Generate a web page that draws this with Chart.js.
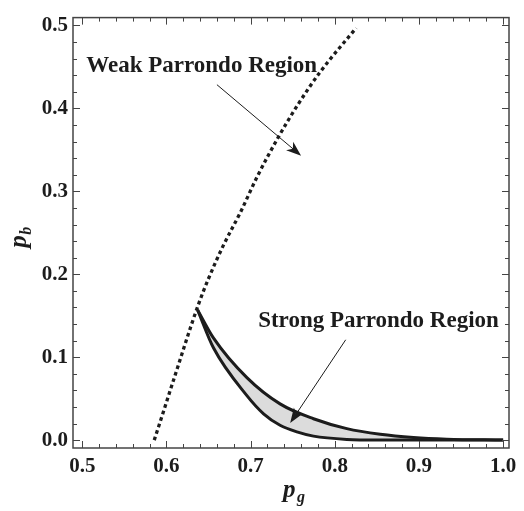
<!DOCTYPE html>
<html>
<head>
<meta charset="utf-8">
<script src="https://cdn.jsdelivr.net/npm/chart.js@4.4.0/dist/chart.umd.min.js"></script>
<style>
  html, body { margin: 0; padding: 0; background: #fff; }
  canvas { display: block; }
</style>
</head>
<body>
<canvas id="grafico" width="524" height="511"></canvas>
<script>
// weak Parrondo boundary (dotted)
const weakPg = [0.5855, 0.597, 0.6085, 0.6378, 0.6497, 0.6675, 0.6876, 0.708, 0.7328, 0.7565, 0.7827, 0.8254];
const weakPb = [0.0, 0.036, 0.0726, 0.163, 0.194, 0.2345, 0.274, 0.318, 0.365, 0.405, 0.444, 0.497];

// strong Parrondo region, upper and lower edges
const upperPg = [0.637, 0.656, 0.6956, 0.735, 0.7747, 0.8143, 0.854, 0.8935, 0.933, 1.0];
const upperPb = [0.157, 0.123, 0.0754, 0.0437, 0.0258, 0.0139, 0.0071, 0.0032, 0.0012, 0.0];
const lowerPg = [0.637, 0.656, 0.6956, 0.7154, 0.735, 0.755, 0.7747, 0.8143, 0.85, 1.0];
const lowerPb = [0.157, 0.111, 0.0536, 0.0317, 0.0179, 0.0099, 0.0048, 0.0008, 0.0, 0.0];

// ticks
const xTicks = [0.5, 0.6, 0.7, 0.8, 0.9, 1.0];
const yTicks = [0.0, 0.1, 0.2, 0.3, 0.4, 0.5];
const minorStep = 0.02;

// annotations (data units)
const labels = ['Weak Parrondo Region', 'Strong Parrondo Region'];
const labelPg = [0.5048, 0.709];
const labelPb = [0.444, 0.137];
const arrowFrom = [[0.660, 0.4286], [0.813, 0.121]];
const arrowTo = [[0.760, 0.343], [0.747, 0.0206]];

const serif = '"Liberation Serif", "Times New Roman", serif';
const ink = '#1c1c1c';

const pts = (xs, ys) => xs.map((x, i) => ({ x: x, y: ys[i] }));

function drawArrow(ctx, x0, y0, x1, y1) {
  const ang = Math.atan2(y1 - y0, x1 - x0);
  const len = 15, half = 5.5;
  ctx.save();
  ctx.strokeStyle = ink;
  ctx.fillStyle = ink;
  ctx.lineWidth = 1;
  ctx.beginPath();
  ctx.moveTo(x0, y0);
  ctx.lineTo(x1 - Math.cos(ang) * len * 0.7, y1 - Math.sin(ang) * len * 0.7);
  ctx.stroke();
  ctx.translate(x1, y1);
  ctx.rotate(ang);
  ctx.beginPath();
  ctx.moveTo(0, 0);
  ctx.lineTo(-len, -half);
  ctx.lineTo(-len * 0.72, 0);
  ctx.lineTo(-len, half);
  ctx.closePath();
  ctx.fill();
  ctx.restore();
}

const decoracao = {
  id: 'decoracao',
  afterDatasetsDraw(chart) {
    const ctx = chart.ctx;
    const xs = chart.scales.x, ys = chart.scales.y;
    const a = chart.chartArea;

    // moldura
    ctx.save();
    ctx.strokeStyle = '#444';
    ctx.lineWidth = 1.5;
    ctx.strokeRect(a.left, a.top, a.right - a.left, a.bottom - a.top);

    // ticks para dentro, nos quatro lados
    ctx.lineWidth = 1;
    ctx.beginPath();
    for (let v = 0.5; v <= 1.0001; v += minorStep) {
      const major = Math.abs(v * 10 - Math.round(v * 10)) < 1e-6;
      const L = major ? 7 : 4;
      const px = Math.round(xs.getPixelForValue(v)) + 0.5;
      ctx.moveTo(px, a.bottom); ctx.lineTo(px, a.bottom - L);
      ctx.moveTo(px, a.top); ctx.lineTo(px, a.top + L);
    }
    for (let v = 0; v <= 0.5001; v += minorStep) {
      const major = Math.abs(v * 10 - Math.round(v * 10)) < 1e-6;
      const L = major ? 7 : 4;
      const py = Math.round(ys.getPixelForValue(v)) + 0.5;
      ctx.moveTo(a.left, py); ctx.lineTo(a.left + L, py);
      ctx.moveTo(a.right, py); ctx.lineTo(a.right - L, py);
    }
    ctx.stroke();

    // textos das regiões
    ctx.fillStyle = ink;
    ctx.font = 'bold 23px ' + serif;
    ctx.textAlign = 'left';
    ctx.textBaseline = 'alphabetic';
    labels.forEach((t, i) => {
      ctx.fillText(t, xs.getPixelForValue(labelPg[i]), ys.getPixelForValue(labelPb[i]));
    });

    // setas
    arrowFrom.forEach((f, i) => {
      drawArrow(ctx,
        xs.getPixelForValue(f[0]), ys.getPixelForValue(f[1]),
        xs.getPixelForValue(arrowTo[i][0]), ys.getPixelForValue(arrowTo[i][1]));
    });

    // títulos dos eixos (p com subscrito)
    const cx = (a.left + a.right) / 2 + 5;
    ctx.font = 'italic bold 25px ' + serif;
    ctx.fillText('p', cx - 13, 497);
    ctx.font = 'italic bold 16px ' + serif;
    ctx.fillText('g', cx + 1, 502);

    ctx.translate(26, (a.top + a.bottom) / 2 + 2);
    ctx.rotate(-Math.PI / 2);
    ctx.font = 'italic bold 25px ' + serif;
    ctx.fillText('p', -13, 0);
    ctx.font = 'italic bold 16px ' + serif;
    ctx.fillText('b', 0, 5);
    ctx.restore();
  }
};

const tickFont = { family: serif, size: 21, weight: 'bold' };

function desenha() {
  new Chart(document.getElementById('grafico'), {
    type: 'line',
    data: {
      datasets: [
        {
          data: pts(upperPg, upperPb),
          borderColor: ink,
          borderWidth: 3,
          backgroundColor: '#dcdcdc',
          fill: '+1',
          pointRadius: 0,
          cubicInterpolationMode: 'monotone'
        },
        {
          data: pts(lowerPg, lowerPb),
          borderColor: ink,
          borderWidth: 3,
          fill: false,
          pointRadius: 0,
          cubicInterpolationMode: 'monotone'
        },
        {
          data: pts(weakPg, weakPb),
          borderColor: ink,
          borderWidth: 3.3,
          borderDash: [3.6, 3.2],
          fill: false,
          pointRadius: 0,
          cubicInterpolationMode: 'monotone'
        }
      ]
    },
    options: {
      responsive: false,
      animation: false,
      layout: { padding: { top: 12, right: 15, left: 0, bottom: 0 } },
      plugins: {
        legend: { display: false },
        tooltip: { enabled: false },
        filler: { drawTime: 'beforeDatasetsDraw' }
      },
      elements: { line: { borderJoinStyle: 'round', borderCapStyle: 'butt' } },
      scales: {
        x: {
          type: 'linear',
          min: 0.489,
          max: 1.007,
          afterBuildTicks: s => { s.ticks = xTicks.map(v => ({ value: v })); },
          afterFit: s => { s.height = 63; },
          grid: { display: false, drawTicks: false },
          border: { display: false },
          ticks: { font: tickFont, color: ink, padding: 6, maxRotation: 0, callback: v => v.toFixed(1) }
        },
        y: {
          type: 'linear',
          min: -0.0095,
          max: 0.5095,
          afterBuildTicks: s => { s.ticks = yTicks.map(v => ({ value: v })); },
          afterFit: s => { s.width = 73; },
          grid: { display: false, drawTicks: false },
          border: { display: false },
          ticks: { font: tickFont, color: ink, padding: 5, callback: v => v.toFixed(1) }
        }
      }
    },
    plugins: [decoracao]
  });
}

// garante que a fonte serifada esteja pronta antes de desenhar
Promise.all([
  document.fonts.load('bold 21px "Liberation Serif"'),
  document.fonts.load('italic bold 25px "Liberation Serif"')
]).catch(() => {}).then(desenha);
</script>
</body>
</html>
